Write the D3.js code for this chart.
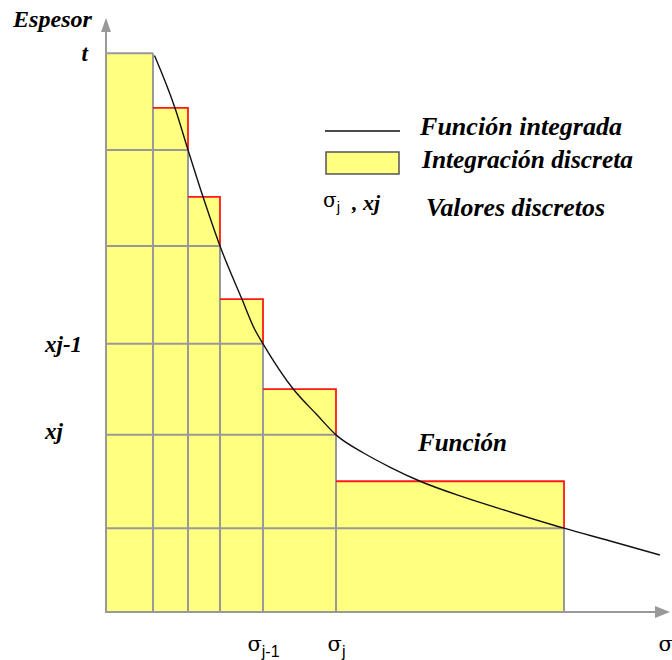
<!DOCTYPE html>
<html>
<head>
<meta charset="utf-8">
<script src="https://cdn.jsdelivr.net/npm/d3@7"></script>
<style>
  html, body { margin: 0; padding: 0; background: #ffffff; }
  svg { display: block; }
  .lbl { font-family: "Liberation Serif", "Times New Roman", serif; font-style: italic; font-weight: bold; fill: #000; }
</style>
</head>
<body>
<svg id="chart" width="672" height="660"></svg>
<script>
// Step boundaries along the stress axis σ (σ0 … σn)
const sigmaBounds = [0, 8.33, 14.54, 20.21, 27.84, 40.78, 81.21];
// Function value (thickness) at each right-hand boundary σ1 … σn
const boundaryValues = [100, 82.7, 65.5, 48.0, 31.7, 15.0];
// Height of each discrete step (first step = t)
const stepHeights = [100, 90.2, 74.3, 56.0, 39.9, 23.4];

// Integrated function, sampled along σ
const curveSigma = [8.6, 12.23, 14.54, 17.2, 20.21, 24.1, 26.4, 27.84, 33.2, 37.4, 40.78, 45.6, 50.4, 55.7, 63.3, 71.1, 81.21, 89.4, 98.2];
const curveValues = [99.6, 90.2, 82.7, 74.3, 65.5, 56.0, 50.5, 48.0, 39.9, 35.3, 31.7, 28.5, 25.9, 23.4, 20.6, 18.1, 15.0, 12.7, 10.2];

// Axis labels
const yTickValues = [100, 48.0, 31.7];
const yTickLabels = ["t", "xj-1", "xj"];
const xTickValues = [27.84, 40.78, 100];
const xTickSubs = ["j-1", "j", ""];

const svg = d3.select("#chart");

const x = d3.scaleLinear().domain([0, 100]).range([106, 670]);
const y = d3.scaleLinear().domain([0, 106.3]).range([612, 18]);

const YELLOW = "#ffff80";
const GRAY = "#999999";
const RED = "#ff1a1a";

// Yellow steps
svg.append("g").selectAll("rect")
  .data(stepHeights)
  .join("rect")
  .attr("x", (d, i) => x(sigmaBounds[i]))
  .attr("width", (d, i) => x(sigmaBounds[i + 1]) - x(sigmaBounds[i]))
  .attr("y", d => y(d))
  .attr("height", d => y(0) - y(d))
  .attr("fill", YELLOW);

// Gray grid: verticals up to the function value, horizontals back to the axis
const grid = svg.append("g").attr("stroke", GRAY).attr("stroke-width", 2);
grid.selectAll("line.v")
  .data(boundaryValues)
  .join("line").attr("class", "v")
  .attr("x1", (d, i) => x(sigmaBounds[i + 1])).attr("x2", (d, i) => x(sigmaBounds[i + 1]))
  .attr("y1", y(0)).attr("y2", d => y(d));
grid.selectAll("line.h")
  .data(boundaryValues)
  .join("line").attr("class", "h")
  .attr("x1", x(0)).attr("x2", (d, i) => x(sigmaBounds[i + 1]))
  .attr("y1", d => y(d)).attr("y2", d => y(d));

// Red outline: top of each step and its right side down to the function value
svg.append("g").selectAll("path")
  .data(stepHeights.slice(1))
  .join("path")
  .attr("fill", "none")
  .attr("stroke", RED)
  .attr("stroke-width", 1.8)
  .attr("d", (d, k) => {
    const i = k + 1;
    return d3.line()([
      [x(sigmaBounds[i]), y(d)],
      [x(sigmaBounds[i + 1]), y(d)],
      [x(sigmaBounds[i + 1]), y(boundaryValues[i])]
    ]);
  });

// Axes
const axisG = svg.append("g");
axisG.append("line")
  .attr("x1", x(0)).attr("x2", x(100) - 10)
  .attr("y1", y(0)).attr("y2", y(0))
  .attr("stroke", GRAY).attr("stroke-width", 2);
axisG.append("path")
  .attr("d", `M${x(100)},${y(0)}L${x(100) - 15},${y(0) - 6}L${x(100) - 15},${y(0) + 6}Z`)
  .attr("fill", GRAY);
axisG.append("line")
  .attr("x1", x(0)).attr("x2", x(0))
  .attr("y1", y(0) + 1).attr("y2", y(106.3) + 10)
  .attr("stroke", GRAY).attr("stroke-width", 2);
axisG.append("path")
  .attr("d", `M${x(0)},${y(106.3)}L${x(0) - 5},${y(106.3) + 14}L${x(0) + 5},${y(106.3) + 14}Z`)
  .attr("fill", GRAY);

// Integrated function
svg.append("path")
  .datum(d3.zip(curveSigma, curveValues))
  .attr("fill", "none")
  .attr("stroke", "#111")
  .attr("stroke-width", 1.4)
  .attr("d", d3.line().x(d => x(d[0])).y(d => y(d[1])).curve(d3.curveMonotoneX));

// Y axis labels (t, xj-1, xj)
const yAxisG = svg.append("g")
  .attr("transform", `translate(${x(0)},0)`)
  .call(d3.axisLeft(y).tickValues(yTickValues).tickSize(0).tickSizeOuter(0)
        .tickFormat((d, i) => yTickLabels[i]));
yAxisG.select(".domain").remove();
yAxisG.selectAll("text")
  .attr("class", "lbl")
  .attr("font-size", 23)
  .attr("text-anchor", (d, i) => i === 0 ? "end" : "start")
  .attr("x", (d, i) => i === 0 ? -18 : -61)
  .attr("dy", (d, i) => i === 2 ? "0.15em" : "0.32em");

// X axis labels (σj-1, σj, σ)
const xAxisG = svg.append("g")
  .attr("transform", `translate(0,${y(0)})`)
  .call(d3.axisBottom(x).tickValues(xTickValues).tickSize(0).tickSizeOuter(0).tickFormat(""));
xAxisG.select(".domain").remove();
xAxisG.selectAll(".tick text").each(function (d, i) {
  const t = d3.select(this)
    .attr("y", 39).attr("dy", 0)
    .attr("text-anchor", i === 2 ? "start" : "middle")
    .attr("x", i === 2 ? -12 : 0)
    .attr("fill", "#000");
  t.append("tspan").attr("font-family", "'DejaVu Serif', serif").attr("font-size", 21).text("σ");
  if (xTickSubs[i]) {
    t.append("tspan").attr("font-family", "'Liberation Sans', Arial, sans-serif")
      .attr("font-size", 16).attr("dy", 6).text(xTickSubs[i]);
  }
});

// Axis title
svg.append("text").attr("class", "lbl").attr("font-size", 23)
  .attr("x", 13).attr("y", 27).attr("textLength", 79).attr("lengthAdjust", "spacingAndGlyphs")
  .text("Espesor");

// Curve caption
svg.append("text").attr("class", "lbl").attr("font-size", 25)
  .attr("x", 418).attr("y", 451).attr("textLength", 89).attr("lengthAdjust", "spacingAndGlyphs")
  .text("Función");

// Legend
const leg = svg.append("g");
leg.append("line").attr("x1", 325).attr("x2", 400).attr("y1", 131).attr("y2", 131)
  .attr("stroke", "#111").attr("stroke-width", 1.5);
leg.append("text").attr("class", "lbl").attr("font-size", 25)
  .attr("x", 420).attr("y", 135).attr("textLength", 202).attr("lengthAdjust", "spacingAndGlyphs")
  .text("Función integrada");
leg.append("rect").attr("x", 326).attr("y", 152).attr("width", 73).attr("height", 22)
  .attr("fill", YELLOW).attr("stroke", "#555").attr("stroke-width", 1.5);
leg.append("text").attr("class", "lbl").attr("font-size", 25)
  .attr("x", 422).attr("y", 168).attr("textLength", 211).attr("lengthAdjust", "spacingAndGlyphs")
  .text("Integración discreta");
const sym = leg.append("text").attr("x", 323).attr("y", 207).attr("fill", "#000");
sym.append("tspan").attr("font-family", "'DejaVu Serif', serif").attr("font-size", 20).text("σ");
sym.append("tspan").attr("font-family", "'Liberation Sans', Arial, sans-serif")
  .attr("font-size", 15).attr("dy", 5).text("j");
leg.append("text").attr("class", "lbl").attr("font-size", 22)
  .attr("x", 352).attr("y", 210).text(", xj");
leg.append("text").attr("class", "lbl").attr("font-size", 25).attr("font-weight", "normal")
  .attr("x", 426).attr("y", 216).attr("textLength", 179).attr("lengthAdjust", "spacingAndGlyphs")
  .text("Valores discretos");
</script>
</body>
</html>
